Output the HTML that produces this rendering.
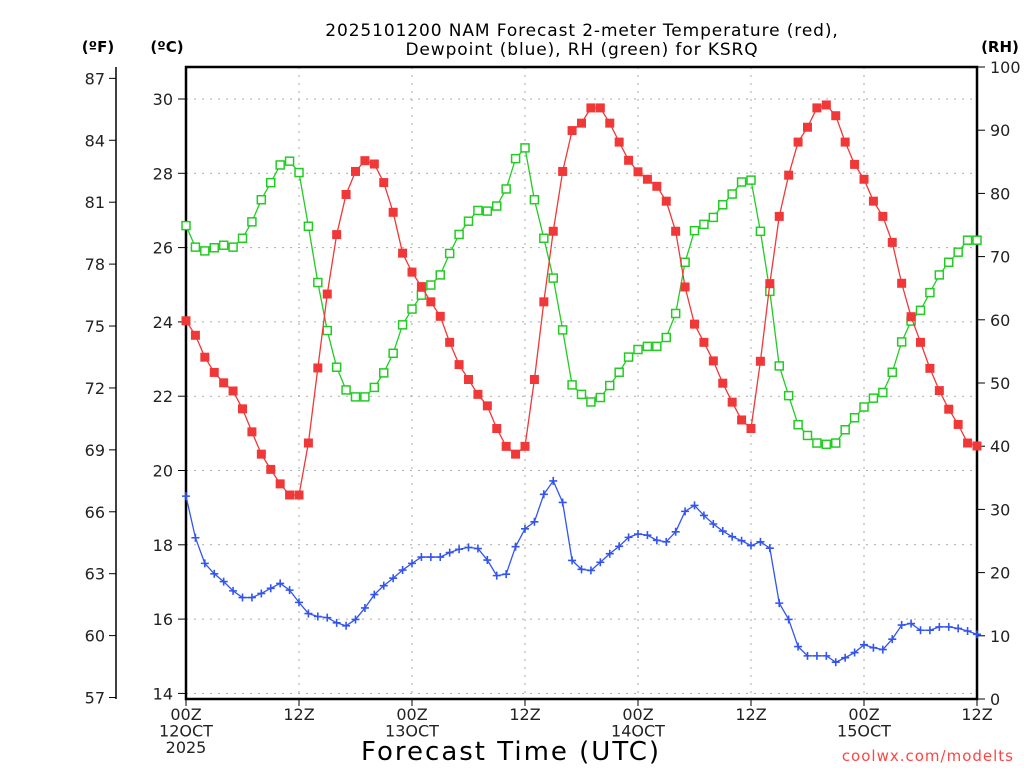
<!DOCTYPE html>
<html><head><meta charset="utf-8"><style>
body{margin:0;background:#fff;}
svg text{font-family:"DejaVu Sans","Liberation Sans",sans-serif;}
</style></head><body>
<svg id="c" width="1024" height="768" xmlns="http://www.w3.org/2000/svg">
<text x="582" y="36" text-anchor="middle" font-size="17" letter-spacing="0.9">2025101200 NAM Forecast 2-meter Temperature (red),</text>
<text x="582" y="55" text-anchor="middle" font-size="17" letter-spacing="0.9">Dewpoint (blue), RH (green) for KSRQ</text>
<text x="98" y="52" text-anchor="middle" font-size="15" font-weight="bold">(ºF)</text>
<text x="167" y="52" text-anchor="middle" font-size="15" font-weight="bold">(ºC)</text>
<text x="1000" y="52" text-anchor="middle" font-size="15" font-weight="bold">(RH)</text>
<text x="511" y="760" text-anchor="middle" font-size="26" letter-spacing="2">Forecast Time (UTC)</text>
<text x="1014" y="761" text-anchor="end" font-size="15" fill="#ff4444" letter-spacing="1">coolwx.com/modelts</text>
<g id="grid"></g><g id="axes"></g><g id="series"></g>
</svg>
<script>
const tempC=[24.03,23.64,23.05,22.64,22.36,22.14,21.66,21.04,20.44,20.03,19.64,19.34,19.34,20.74,22.76,24.75,26.35,27.43,28.05,28.34,28.25,27.75,26.95,25.85,25.34,24.95,24.54,24.15,23.45,22.85,22.45,22.05,21.74,21.13,20.65,20.44,20.65,22.45,24.54,26.44,28.05,29.15,29.35,29.76,29.76,29.35,28.84,28.35,28.04,27.84,27.65,27.25,26.44,24.94,23.94,23.45,22.95,22.35,21.84,21.36,21.13,22.94,25.03,26.84,27.95,28.84,29.24,29.76,29.84,29.55,28.84,28.24,27.84,27.25,26.84,26.14,25.04,24.14,23.45,22.75,22.15,21.65,21.24,20.74,20.66];
const dewC=[19.31,18.19,17.50,17.22,17.01,16.76,16.58,16.58,16.69,16.83,16.96,16.78,16.45,16.15,16.07,16.04,15.90,15.82,15.99,16.30,16.66,16.90,17.10,17.32,17.50,17.67,17.67,17.67,17.79,17.88,17.93,17.90,17.59,17.17,17.21,17.95,18.43,18.62,19.36,19.72,19.14,17.58,17.34,17.31,17.53,17.76,17.96,18.20,18.29,18.26,18.12,18.08,18.35,18.90,19.06,18.79,18.56,18.37,18.22,18.11,17.98,18.08,17.91,16.43,15.99,15.26,15.01,15.01,15.01,14.84,14.96,15.10,15.31,15.23,15.18,15.46,15.84,15.88,15.70,15.70,15.79,15.79,15.75,15.68,15.59];
const rh=[74.9,71.5,70.9,71.4,71.8,71.5,72.9,75.5,79.0,81.7,84.5,85.1,83.3,74.8,65.9,58.3,52.5,48.9,47.8,47.8,49.3,51.6,54.7,59.2,61.7,63.9,65.5,67.1,70.5,73.5,75.6,77.3,77.2,78.0,80.7,85.5,87.2,79.0,72.9,66.6,58.4,49.7,48.2,47.0,47.7,49.6,51.7,54.1,55.3,55.8,55.8,57.2,61.0,69.1,74.1,75.1,76.2,78.2,79.9,81.8,82.1,74.0,64.5,52.7,48.0,43.4,41.7,40.5,40.3,40.5,42.6,44.5,46.2,47.6,48.5,51.7,56.5,59.8,61.5,64.3,67.1,69.1,70.7,72.6,72.6];
const celsiusTicks=[14,16,18,20,22,24,26,28,30];
const fahrenheitTicks=[57,60,63,66,69,72,75,78,81,84,87];
const rhTicks=[0,10,20,30,40,50,60,70,80,90,100];
const xTickHours=[0,12,24,36,48,60,72,84];
const xTickLabels=[["00Z","12OCT","2025"],["12Z"],["00Z","13OCT"],["12Z"],["00Z","14OCT"],["12Z"],["00Z","15OCT"],["12Z"]];

const L=186,R=977,T=67,B=699,NS="http://www.w3.org/2000/svg";
const X=h=>L+(R-L)*h/84;
const YC=c=>99+(30-c)*37.15;
const YF=f=>YC((f-32)*5/9);
const YR=r=>B-(B-T)*r/100;
function mk(p,tag,a){const e=document.createElementNS(NS,tag);for(const k in a)e.setAttribute(k,a[k]);p.appendChild(e);return e;}
const grid=document.getElementById('grid'),axes=document.getElementById('axes'),ser=document.getElementById('series');
celsiusTicks.forEach(c=>{const g=mk(grid,'line',{x1:L,x2:R,y1:YC(c),y2:YC(c),stroke:'#aaa','stroke-dasharray':'2,6'});
});
xTickHours.slice(1,-1).forEach(h=>{const g=mk(grid,'line',{x1:X(h),x2:X(h),y1:T,y2:B,stroke:'#aaa','stroke-dasharray':'2,6'});
});
const box=mk(axes,'rect',{x:L,y:T,width:R-L,height:B-T,fill:'none',stroke:'#000','stroke-width':2.5});

const fl=mk(axes,'line',{x1:116,x2:116,y1:T,y2:B,stroke:'#000','stroke-width':1.5});

celsiusTicks.forEach(c=>{mk(axes,'line',{x1:L-8,x2:L,y1:YC(c),y2:YC(c),stroke:'#000'});
const t=mk(axes,'text',{x:L-13,y:YC(c)+6,'text-anchor':'end','font-size':16,fill:'#222'});t.textContent=c;
});
fahrenheitTicks.forEach(f=>{mk(axes,'line',{x1:109,x2:116,y1:YF(f),y2:YF(f),stroke:'#000'});
const t=mk(axes,'text',{x:105,y:YF(f)+6,'text-anchor':'end','font-size':16,fill:'#222'});t.textContent=f;
});
rhTicks.forEach(r=>{mk(axes,'line',{x1:R,x2:R+8,y1:YR(r),y2:YR(r),stroke:'#000'});
const t=mk(axes,'text',{x:R+13,y:YR(r)+6,'font-size':16,fill:'#222'});t.textContent=r;
});
xTickHours.forEach((h,i)=>{mk(axes,'line',{x1:X(h),x2:X(h),y1:B,y2:B+7,stroke:'#000'});
xTickLabels[i].forEach((s,j)=>{const t=mk(axes,'text',{x:X(h),y:B+21+j*16.5,'text-anchor':'middle','font-size':16,fill:'#222'});t.textContent=s;
});});
function series(vals,yf,color,marker,name){
 const pts=vals.map((v,i)=>[X(i),yf(v)]);
 const pl=mk(ser,'polyline',{points:pts.map(p=>p.join(',')).join(' '),fill:'none',stroke:color,'stroke-width':1.3});
 
 pts.forEach(([x,y])=>{let m;
  if(marker==='fill')m=mk(ser,'rect',{x:x-4.5,y:y-4.5,width:9,height:9,fill:color});
  else if(marker==='open')m=mk(ser,'rect',{x:x-4,y:y-4,width:8,height:8,fill:'#fff',stroke:color,'stroke-width':1.5});
  else m=mk(ser,'path',{d:`M${x-4},${y}H${x+4}M${x},${y-4}V${y+4}`,stroke:color,'stroke-width':1.6});
  });
}
series(rh,YR,'#22cc22','open','rh');
series(tempC,YC,'#f03838','fill','temperature');
series(dewC,YC,'#3355ee','plus','dewpoint');
</script>
</body></html>
